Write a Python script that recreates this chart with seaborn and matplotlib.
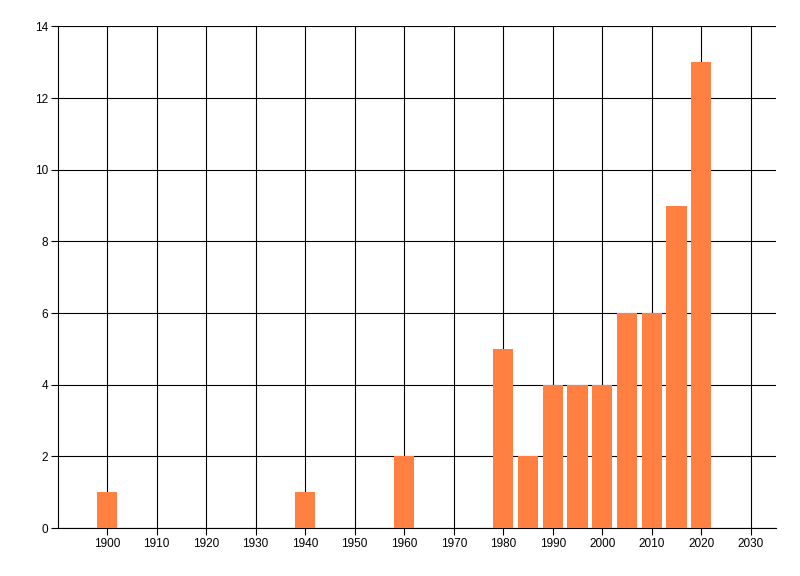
import matplotlib
matplotlib.use('Agg')
import matplotlib.pyplot as plt
import seaborn as sns
import numpy as np
import pandas as pd

# datos
years = [1900, 1940, 1960, 1980, 1985, 1990, 1995, 2000, 2005, 2010, 2015, 2020]
counts = [1, 1, 2, 5, 2, 4, 4, 4, 6, 6, 9, 13]
x_ticks = list(range(1900, 2031, 10))
y_ticks = list(range(0, 15, 2))

df = pd.DataFrame({'year': years, 'count': counts})

sns.set_style('white')
plt.rcParams['font.family'] = ['Liberation Sans', 'DejaVu Sans']

fig = plt.figure(figsize=(8, 5.76), dpi=100)
ax = fig.add_axes([0.072, 0.083, 0.8975, 0.8713])

sns.barplot(data=df, x='year', y='count', native_scale=True, width=0.82,
            color='#ff8040', saturation=1, ax=ax, zorder=3,
            edgecolor='none', linewidth=0)

ax.set_xlim(1890, 2035)
ax.set_ylim(0, 14)
ax.set_xticks(x_ticks)
ax.set_yticks(y_ticks)
ax.set_xlabel('')
ax.set_ylabel('')

ax.grid(True, color='black', linewidth=0.8, zorder=0)
ax.set_axisbelow(True)
for s in ['top', 'right']:
    ax.spines[s].set_visible(False)
for s in ['left', 'bottom']:
    ax.spines[s].set_color('black')
    ax.spines[s].set_linewidth(0.8)

ax.tick_params(axis='both', direction='out', length=5, width=0.8, color='black',
               labelsize=8.5, labelcolor='black', pad=2, bottom=True, left=True)

plt.savefig('out.png', dpi=100)
plt.close()
